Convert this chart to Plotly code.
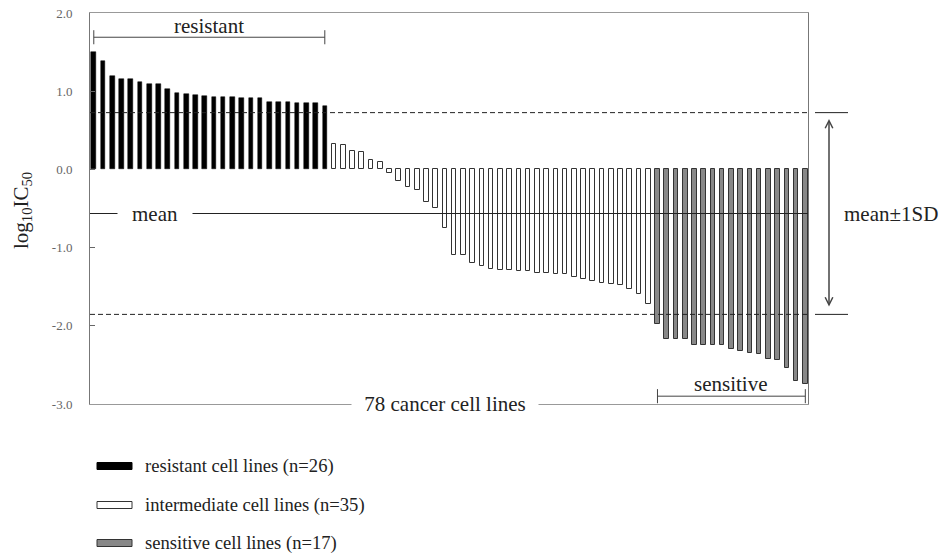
import plotly.graph_objects as go

# ---- data (log10 IC50 per cell line, sorted) ----
resistant = [1.50, 1.38, 1.20, 1.16, 1.16, 1.12, 1.09, 1.09, 1.03, 0.98, 0.96, 0.95, 0.94,
             0.93, 0.93, 0.93, 0.91, 0.91, 0.91, 0.86, 0.86, 0.86, 0.855, 0.855, 0.855, 0.81]
intermediate = [0.32, 0.31, 0.235, 0.22, 0.12, 0.09, -0.04, -0.145, -0.22, -0.265, -0.42, -0.49,
                -0.745, -1.10, -1.10, -1.195, -1.24, -1.27, -1.28, -1.28, -1.295, -1.30, -1.32,
                -1.33, -1.34, -1.34, -1.38, -1.405, -1.43, -1.45, -1.46, -1.48, -1.525, -1.59, -1.72]
sensitive = [-1.98, -2.17, -2.17, -2.17, -2.25, -2.25, -2.25, -2.25, -2.30, -2.32, -2.35, -2.36,
             -2.42, -2.44, -2.54, -2.71, -2.74]
mean_val = -0.564
sd_val = 1.29
tick_vals = [2.0, 1.0, 0.0, -1.0, -2.0, -3.0]
tick_text = ["2.0", "1.0", "0.0", "-1.0", "-2.0", "-3.0"]
legend_labels = ["resistant cell lines (n=26)", "intermediate cell lines (n=35)",
                 "sensitive cell lines (n=17)"]

FONT = "Liberation Serif"
W, H = 949, 559
ML, MR, MT, MB = 90, 141, 13, 155
PW, PH = W - ML - MR, H - MT - MB

n_r, n_i, n_s = len(resistant), len(intermediate), len(sensitive)
x_r = list(range(n_r))
x_i = list(range(n_r, n_r + n_i))
x_s = list(range(n_r + n_i, n_r + n_i + n_s))
N = n_r + n_i + n_s

def px_x(p):  # pixel -> paper x
    return (p - ML) / PW

def px_y(p):  # pixel -> paper y
    return (H - MB - p) / PH

fig = go.Figure()
bw = 0.5
fig.add_bar(x=x_r, y=resistant, width=bw, marker=dict(color="#000000", line=dict(color="#000000", width=0.5)))
fig.add_bar(x=x_i, y=intermediate, width=bw, marker=dict(color="#ffffff", line=dict(color="#333333", width=1)))
fig.add_bar(x=x_s, y=sensitive, width=bw, marker=dict(color="#888888", line=dict(color="#333333", width=1)))

upper = mean_val + sd_val
lower = mean_val - sd_val
shapes = []
# mean line and +/-1SD dashed lines
shapes.append(dict(type="line", xref="paper", yref="y", x0=0, x1=1, y0=mean_val, y1=mean_val,
                   line=dict(color="#222222", width=1), layer="above"))
for v in (upper, lower):
    shapes.append(dict(type="line", xref="paper", yref="y", x0=0, x1=1, y0=v, y1=v,
                       line=dict(color="#222222", width=1, dash="5px,3px"), layer="above"))
    shapes.append(dict(type="line", xref="paper", yref="y", x0=px_x(815), x1=px_x(848), y0=v, y1=v,
                       line=dict(color="#222222", width=1)))
# resistant bracket
rb_y = 1.69
shapes.append(dict(type="line", xref="x", yref="y", x0=x_r[0], x1=x_r[-1], y0=rb_y, y1=rb_y,
                   line=dict(color="#444444", width=1)))
for xx in (x_r[0], x_r[-1]):
    shapes.append(dict(type="line", xref="x", yref="y", x0=xx, x1=xx, y0=rb_y - 0.09, y1=rb_y + 0.09,
                       line=dict(color="#444444", width=1)))
# sensitive bracket
sb_y = -2.90
shapes.append(dict(type="line", xref="x", yref="y", x0=x_s[0], x1=x_s[-1], y0=sb_y, y1=sb_y,
                   line=dict(color="#444444", width=1)))
for xx in (x_s[0], x_s[-1]):
    shapes.append(dict(type="line", xref="x", yref="y", x0=xx, x1=xx, y0=sb_y - 0.09, y1=sb_y + 0.09,
                       line=dict(color="#444444", width=1)))

# custom legend
leg_rows = [466, 505, 543]
leg_fill = ["#000000", "#ffffff", "#888888"]
leg_line = ["#000000", "#333333", "#333333"]
annotations = []
for row, fc, lc, lab in zip(leg_rows, leg_fill, leg_line, legend_labels):
    shapes.append(dict(type="rect", xref="paper", yref="paper", x0=px_x(97), x1=px_x(132),
                       y0=px_y(row + 3.5), y1=px_y(row - 3.5), fillcolor=fc,
                       line=dict(color=lc, width=1)))
    annotations.append(dict(text=lab, xref="paper", yref="paper", x=px_x(143), y=px_y(row),
                            xanchor="left", yanchor="middle", showarrow=False,
                            font=dict(family=FONT, size=18.6, color="#222222")))

tfont = dict(family=FONT, size=21, color="#222222")
annotations += [
    dict(text="resistant", xref="x", yref="y", x=(x_r[0] + x_r[-1]) / 2, y=1.83, showarrow=False,
         xanchor="center", yanchor="middle", font=tfont),
    dict(text="sensitive", xref="x", yref="y", x=(x_s[0] + x_s[-1]) / 2, y=-2.74, showarrow=False,
         xanchor="center", yanchor="middle", font=tfont),
    dict(text="mean", xref="paper", yref="y", x=px_x(155), y=mean_val, showarrow=False,
         xanchor="center", yanchor="middle", font=tfont, bgcolor="#ffffff", width=72),
    dict(text="78 cancer cell lines", xref="paper", yref="paper", x=px_x(445), y=0, showarrow=False,
         xanchor="center", yanchor="middle", font=tfont, bgcolor="#ffffff", width=184),
    dict(text="mean\u00b11SD", xref="paper", yref="y", x=px_x(891), y=mean_val, showarrow=False,
         xanchor="center", yanchor="middle", font=tfont),
    dict(text="log<sub>10</sub>IC<sub>50</sub>", xref="paper", yref="paper", x=px_x(22),
         y=px_y(211), textangle=-90, showarrow=False, xanchor="center", yanchor="middle",
         font=tfont),
    dict(text="", xref="paper", yref="y", x=px_x(829), y=upper - 0.08, ax=0, ay=(upper - lower - 0.16) * PH / 5.0,
         axref="pixel", ayref="pixel", showarrow=True, arrowhead=5, startarrowhead=5,
         arrowside="end+start", arrowsize=1, arrowwidth=1.5, arrowcolor="#444444"),
]

fig.update_layout(
    width=W, height=H, margin=dict(l=ML, r=MR, t=MT, b=MB, pad=0, autoexpand=False),
    plot_bgcolor="#ffffff", paper_bgcolor="#ffffff", showlegend=False,
    bargap=0, barmode="overlay",
    xaxis=dict(range=[-0.41, N - 1 + 0.29], showgrid=False, zeroline=False, showticklabels=False,
               ticks="", showline=True, linecolor="#999999", linewidth=1, mirror=True,
               automargin=False),
    yaxis=dict(range=[-3.0, 2.0], tickvals=tick_vals, ticktext=tick_text, showgrid=False,
               zeroline=False, ticks="inside", ticklen=5, tickcolor="#666666",
               showline=True, linecolor="#777777", linewidth=1, mirror=True, automargin=False,
               tickfont=dict(family=FONT, size=13, color="#666666"), ticklabelstandoff=14),
    shapes=shapes, annotations=annotations,
)

fig.write_html("out.html")
